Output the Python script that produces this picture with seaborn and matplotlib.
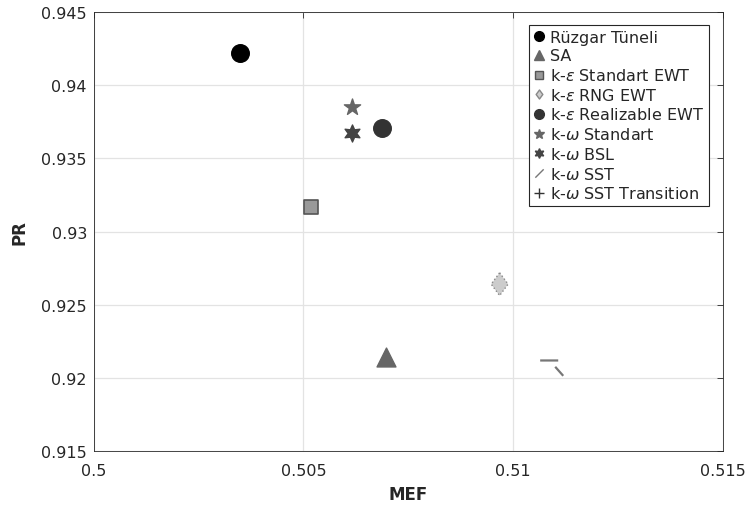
import matplotlib.pyplot as plt
import numpy as np
import pandas as pd
import seaborn as sns
from matplotlib.lines import Line2D
from matplotlib.path import Path

sns.set_theme(style="whitegrid")
plt.rcParams["font.family"] = ["DejaVu Sans"]

# dati
modelli = ["Rüzgar Tüneli", "SA", "k-$\\epsilon$ Standart EWT", "k-$\\epsilon$ RNG EWT",
           "k-$\\epsilon$ Realizable EWT", "k-$\\omega$ Standart", "k-$\\omega$ BSL",
           "k-$\\omega$ SST", "k-$\\omega$ SST Transition"]
mef = [0.50348, 0.50697, 0.50518, 0.50968, 0.50687, 0.50616, 0.50616, 0.51091, np.nan]
pr = [0.94224, 0.92140, 0.93168, 0.92640, 0.93708, 0.93849, 0.93672, 0.92068, np.nan]

df = pd.DataFrame({"modello": modelli, "MEF": mef, "PR": pr})

# marker per la linea SST (tratto orizzontale + tratto obliquo)
sst_path = Path([(-11, 7.3), (7, 7.3), (4, 1), (12, -8)],
                [Path.MOVETO, Path.LINETO, Path.MOVETO, Path.LINETO])
slash_path = Path([(-1, -1), (1, 1)], [Path.MOVETO, Path.LINETO])
rombo = Path([(0, 1), (0.74, 0), (0, -1), (-0.74, 0), (0, 1)],
             [Path.MOVETO, Path.LINETO, Path.LINETO, Path.LINETO, Path.CLOSEPOLY])

stili = [
    dict(marker="o", fc="#000000", ec="#000000", s=160, lw=1.0, ls="-"),
    dict(marker="^", fc="#666666", ec="#666666", s=185, lw=1.0, ls="-"),
    dict(marker="s", fc="#999999", ec="#555555", s=100, lw=1.2, ls="-"),
    dict(marker=rombo, fc="#cccccc", ec="#888888", s=270, lw=1.0, ls=":"),
    dict(marker="o", fc="#333333", ec="#333333", s=160, lw=1.0, ls="-"),
    dict(marker="*", fc="#666666", ec="#666666", s=150, lw=1.0, ls="-"),
    dict(marker=(6, 1, 0), fc="#444444", ec="#444444", s=150, lw=1.0, ls="-"),
    dict(marker=sst_path, fc="none", ec="#777777", s=300, lw=1.6, ls="-"),
    dict(marker="+", fc="#333333", ec="#333333", s=100, lw=1.0, ls="-"),
]

fig, ax = plt.subplots(figsize=(7.45, 5.06), dpi=100)
fig.subplots_adjust(left=0.126, right=0.970, bottom=0.107, top=0.974)

for i, row in df.iterrows():
    st = stili[i]
    if np.isnan(row["MEF"]):
        continue
    sns.scatterplot(x=[row["MEF"]], y=[row["PR"]], ax=ax, marker=st["marker"],
                    s=st["s"], color=st["fc"], edgecolor=st["ec"],
                    linewidth=st["lw"], linestyle=st["ls"], zorder=3, legend=False)

ax.set_xlim(0.5, 0.515)
ax.set_ylim(0.915, 0.945)
ax.set_xticks([0.5, 0.505, 0.51, 0.515])
ax.set_xticklabels(["0.5", "0.505", "0.51", "0.515"])
ax.set_yticks([0.915, 0.92, 0.925, 0.93, 0.935, 0.94, 0.945])
ax.set_yticklabels(["0.915", "0.92", "0.925", "0.93", "0.935", "0.94", "0.945"])
ax.tick_params(axis="both", labelsize=11.5, colors="#262626", direction="in",
               length=4, width=0.6, top=True, right=True)
ax.tick_params(axis="x", pad=9)
ax.tick_params(axis="y", pad=5)
ax.grid(True, color="#e3e3e3", linewidth=0.9)
for sp in ax.spines.values():
    sp.set_color("#262626")
    sp.set_linewidth(0.6)
ax.set_facecolor("white")

ax.set_xlabel("MEF", fontsize=12, fontweight="bold", color="#262626", labelpad=5)
ax.set_ylabel("PR", fontsize=12, fontweight="bold", color="#262626", labelpad=9)

# legenda costruita a mano
dim_leg = [7, 7, 5.5, 6.5, 7, 7, 7, 6, 7.5]
handles = []
for i, nome in enumerate(modelli):
    st = stili[i]
    mk = slash_path if i == 7 else st["marker"]
    handles.append(Line2D([], [], linestyle="none", marker=mk, markersize=dim_leg[i],
                          markerfacecolor=st["fc"], markeredgecolor=st["ec"],
                          markeredgewidth=1.0, label=nome))
leg = ax.legend(handles=handles, loc="upper right", fontsize=11.5, frameon=True,
                fancybox=False, edgecolor="#262626", framealpha=1,
                bbox_to_anchor=(709 / 745, 1 - 26 / 506), bbox_transform=fig.transFigure,
                borderaxespad=0, handlelength=0.6, handletextpad=0.4,
                labelspacing=0.23, borderpad=0.3)
leg.get_frame().set_linewidth(0.8)

fig.savefig("out.png", dpi=100)
